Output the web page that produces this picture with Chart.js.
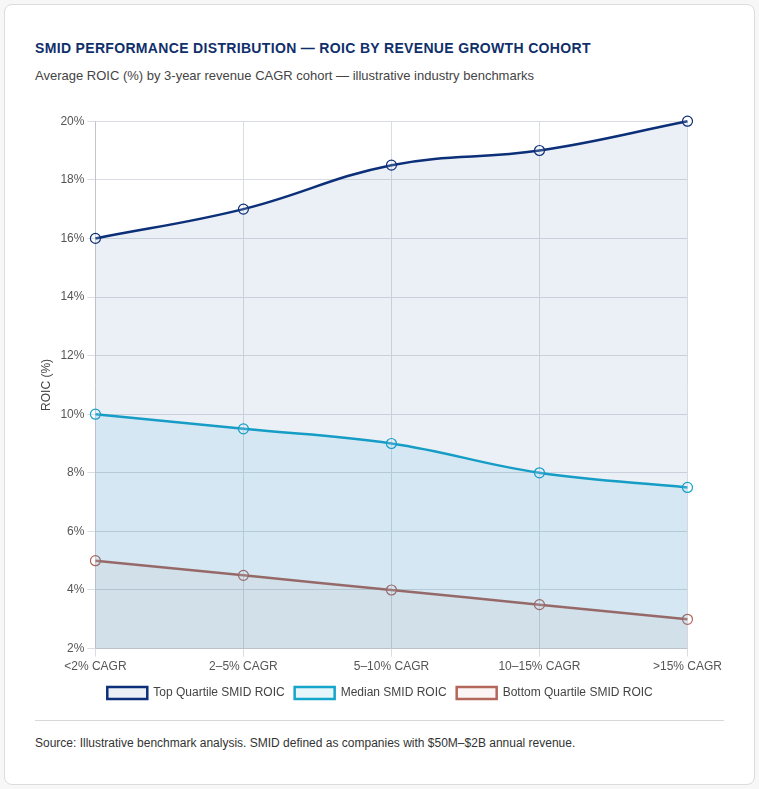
<!DOCTYPE html>
<html><head><meta charset="utf-8">
<script src="https://cdn.jsdelivr.net/npm/chart.js@4.4.0/dist/chart.umd.min.js"></script>
<style>
html,body{margin:0;padding:0;background:#f7f7f7;font-family:"Liberation Sans",Arial,sans-serif;}
.card{position:absolute;left:4px;top:4px;width:749px;height:779px;background:#fff;border:1px solid #dcdcdc;border-radius:8px;box-sizing:content-box;}
.title{position:absolute;left:30px;top:35px;font-size:14px;font-weight:bold;color:#0f2f6b;letter-spacing:0.33px;}
.sub{position:absolute;left:30px;top:63px;font-size:13px;color:#444;}
.wrap{position:absolute;left:30px;top:106px;width:690px;height:598px;}
.hr{position:absolute;left:30px;top:715px;width:689px;border-top:1px solid #d8d8d8;}
.src{position:absolute;left:30px;top:731px;font-size:12px;color:#333;}
</style></head>
<body>
<div class="card">
<div class="title">SMID PERFORMANCE DISTRIBUTION — ROIC BY REVENUE GROWTH COHORT</div>
<div class="sub">Average ROIC (%) by 3-year revenue CAGR cohort — illustrative industry benchmarks</div>
<div class="wrap"><canvas id="c"></canvas></div>
<div class="hr"></div>
<div class="src">Source: Illustrative benchmark analysis. SMID defined as companies with $50M–$2B annual revenue.</div>
</div>
<script>
const categories = ["<2% CAGR","2–5% CAGR","5–10% CAGR","10–15% CAGR",">15% CAGR"];
const topQuartile = [16, 17, 18.5, 19, 20];
const median = [10, 9.5, 9, 8, 7.5];
const bottomQuartile = [5, 4.5, 4, 3.5, 3];
const seriesNames = ["Top Quartile SMID ROIC","Median SMID ROIC","Bottom Quartile SMID ROIC"];

function ds(label, data, color, fill){
  return {label, data, borderColor:color, backgroundColor:fill, borderWidth:2.5, fill:'origin', tension:0.4, clip:false,
    pointRadius:5, pointHoverRadius:5, pointBorderWidth:1.2, pointBackgroundColor:'rgba(255,255,255,0.15)', pointBorderColor:color};
}
new Chart(document.getElementById('c'), {
  type:'line',
  data:{labels:categories, datasets:[
    ds(seriesNames[0], topQuartile, '#0b2f78', 'rgba(30,80,160,0.09)'),
    ds(seriesNames[1], median, '#14a5cb', 'rgba(20,165,203,0.10)'),
    ds(seriesNames[2], bottomQuartile, '#b3665a', 'rgba(179,102,90,0.06)')
  ]},
  options:{responsive:true, maintainAspectRatio:false, animation:false,
    layout:{padding:{left:0,right:0,top:8,bottom:0}},
    plugins:{legend:{position:'bottom', labels:{font:{family:'"Liberation Sans", Arial', size:12}, color:'#444', boxWidth:40, boxHeight:12, padding:10}},
      tooltip:{enabled:false}},
    scales:{
      x:{offset:false, grid:{color:'#d9dde3'}, ticks:{color:'#555', font:{family:'"Liberation Sans", Arial', size:12}}},
      y:{min:2, max:20, grid:{color:'#d9dde3'}, ticks:{stepSize:2, color:'#555', callback:v=>v+'%', font:{family:'"Liberation Sans", Arial', size:12}},
        title:{display:true, text:'ROIC (%)', color:'#444', font:{family:'"Liberation Sans", Arial', size:12}}}
    }
  }
});
</script>
</body></html>
